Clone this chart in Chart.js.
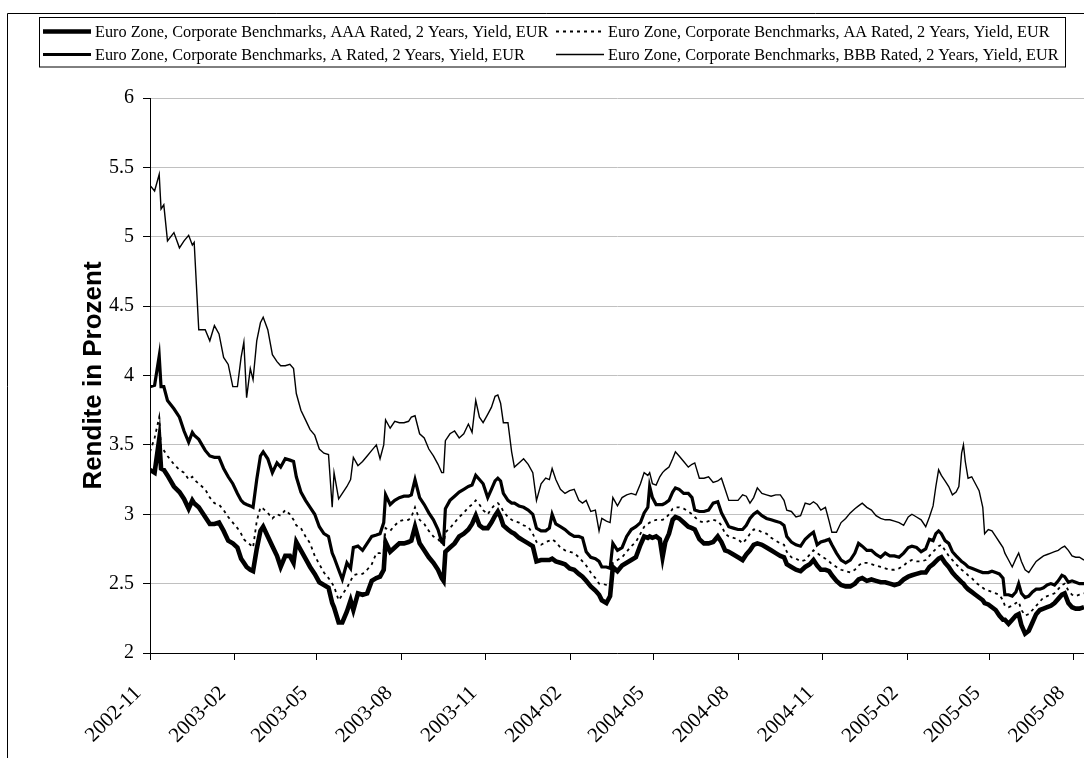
<!DOCTYPE html>
<html>
<head>
<meta charset="utf-8">
<script src="https://cdn.jsdelivr.net/npm/chart.js@4/dist/chart.umd.min.js"></script>
<style>
  html, body { margin: 0; padding: 0; background: #fff; }
  #wrap { width: 1084px; height: 758px; position: relative; }
</style>
</head>
<body>
<div id="wrap"><canvas id="c" width="1084" height="758"></canvas></div>
<script>
const seriesLabels = [
  'Euro Zone, Corporate Benchmarks, AAA Rated, 2 Years, Yield, EUR',
  'Euro Zone, Corporate Benchmarks, AA Rated, 2 Years, Yield, EUR',
  'Euro Zone, Corporate Benchmarks, A Rated, 2 Years, Yield, EUR',
  'Euro Zone, Corporate Benchmarks, BBB Rated, 2 Years, Yield, EUR'
];
const yTitle = 'Rendite in Prozent';

const dates = [
'2002-11-01','2002-11-06','2002-11-11','2002-11-13','2002-11-16','2002-11-20','2002-11-27','2002-12-03','2002-12-08','2002-12-13',
'2002-12-17','2002-12-19','2002-12-24','2002-12-31','2003-01-05','2003-01-10','2003-01-15','2003-01-20','2003-01-25','2003-01-30',
'2003-02-04','2003-02-08','2003-02-11','2003-02-14','2003-02-18','2003-02-21','2003-02-25','2003-03-01','2003-03-04','2003-03-09',
'2003-03-14','2003-03-19','2003-03-23','2003-03-28','2003-04-02','2003-04-06','2003-04-09','2003-04-14','2003-04-19','2003-04-24',
'2003-04-29','2003-05-04','2003-05-09','2003-05-14','2003-05-18','2003-05-20','2003-05-25','2003-05-29','2003-06-03','2003-06-07',
'2003-06-10','2003-06-15','2003-06-20','2003-06-25','2003-06-30','2003-07-05','2003-07-09','2003-07-13','2003-07-15','2003-07-20',
'2003-07-25','2003-07-30','2003-08-04','2003-08-09','2003-08-12','2003-08-16','2003-08-21','2003-08-26','2003-08-31','2003-09-05',
'2003-09-10','2003-09-14','2003-09-16','2003-09-18','2003-09-23','2003-09-28','2003-10-03','2003-10-08','2003-10-13','2003-10-17',
'2003-10-21','2003-10-25','2003-10-29','2003-11-03','2003-11-07','2003-11-11','2003-11-14','2003-11-17','2003-11-20','2003-11-25',
'2003-11-29','2003-12-02','2003-12-07','2003-12-12','2003-12-17','2003-12-22','2003-12-26','2003-12-31','2004-01-05','2004-01-09',
'2004-01-12','2004-01-16','2004-01-21','2004-01-26','2004-01-31','2004-02-05','2004-02-10','2004-02-14','2004-02-18','2004-02-23',
'2004-02-28','2004-03-03','2004-03-06','2004-03-11','2004-03-15','2004-03-18','2004-03-23','2004-03-28','2004-04-02','2004-04-07',
'2004-04-12','2004-04-17','2004-04-21','2004-04-25','2004-04-27','2004-04-30','2004-05-04','2004-05-08','2004-05-11','2004-05-14',
'2004-05-18','2004-05-22','2004-05-25','2004-05-29','2004-06-03','2004-06-08','2004-06-12','2004-06-15','2004-06-20','2004-06-25',
'2004-06-30','2004-07-05','2004-07-10','2004-07-14','2004-07-18','2004-07-22','2004-07-27','2004-08-01','2004-08-06','2004-08-10',
'2004-08-14','2004-08-18','2004-08-22','2004-08-27','2004-09-01','2004-09-06','2004-09-11','2004-09-16','2004-09-20','2004-09-23',
'2004-09-28','2004-10-03','2004-10-08','2004-10-13','2004-10-18','2004-10-22','2004-10-26','2004-10-30','2004-11-04','2004-11-08',
'2004-11-11','2004-11-16','2004-11-21','2004-11-26','2004-12-01','2004-12-06','2004-12-10','2004-12-14','2004-12-19','2004-12-24',
'2004-12-29','2005-01-03','2005-01-08','2005-01-13','2005-01-18','2005-01-23','2005-01-28','2005-02-02','2005-02-06','2005-02-11',
'2005-02-16','2005-02-21','2005-02-25','2005-03-01','2005-03-04','2005-03-07','2005-03-10','2005-03-14','2005-03-18','2005-03-22',
'2005-03-26','2005-03-29','2005-04-01','2005-04-03','2005-04-05','2005-04-08','2005-04-12','2005-04-16','2005-04-20','2005-04-24',
'2005-04-26','2005-04-30','2005-05-04','2005-05-08','2005-05-12','2005-05-16','2005-05-18','2005-05-22','2005-05-26','2005-05-30',
'2005-06-02','2005-06-05','2005-06-09','2005-06-13','2005-06-17','2005-06-21','2005-06-25','2005-06-29','2005-07-03','2005-07-07',
'2005-07-11','2005-07-15','2005-07-19','2005-07-22','2005-07-26','2005-07-30','2005-08-03','2005-08-07','2005-08-12'
];

const aaaYield = [
3.32,3.30,3.54,3.33,3.32,3.28,3.20,3.16,3.11,3.04,
3.10,3.08,3.05,2.98,2.93,2.93,2.94,2.88,2.81,2.79,
2.76,2.68,2.65,2.62,2.60,2.59,2.75,2.88,2.91,2.84,
2.77,2.70,2.62,2.70,2.70,2.65,2.80,2.74,2.68,2.62,
2.57,2.51,2.49,2.47,2.36,2.33,2.22,2.22,2.30,2.38,
2.31,2.43,2.42,2.43,2.52,2.54,2.55,2.60,2.80,2.73,
2.76,2.79,2.79,2.80,2.81,2.91,2.79,2.74,2.69,2.65,
2.60,2.54,2.52,2.73,2.76,2.79,2.84,2.86,2.89,2.93,
2.99,2.92,2.90,2.90,2.94,2.99,3.02,2.98,2.92,2.89,
2.87,2.86,2.83,2.81,2.79,2.77,2.66,2.67,2.67,2.67,
2.68,2.66,2.65,2.64,2.61,2.60,2.57,2.55,2.52,2.48,
2.45,2.42,2.38,2.36,2.41,2.62,2.59,2.63,2.65,2.67,
2.69,2.78,2.84,2.83,2.84,2.83,2.84,2.82,2.69,2.80,
2.86,2.96,2.98,2.97,2.94,2.91,2.90,2.89,2.82,2.79,
2.79,2.80,2.84,2.80,2.74,2.73,2.71,2.69,2.67,2.71,
2.74,2.78,2.79,2.78,2.76,2.74,2.72,2.70,2.69,2.64,
2.62,2.60,2.59,2.62,2.64,2.67,2.63,2.60,2.60,2.59,
2.56,2.52,2.49,2.48,2.48,2.50,2.53,2.54,2.52,2.53,
2.52,2.51,2.51,2.50,2.49,2.50,2.53,2.55,2.56,2.57,
2.58,2.58,2.62,2.64,2.66,2.68,2.69,2.65,2.62,2.58,
2.55,2.53,2.51,2.50,2.48,2.46,2.44,2.42,2.40,2.38,
2.36,2.35,2.33,2.31,2.27,2.24,2.24,2.21,2.24,2.27,
2.28,2.20,2.14,2.16,2.22,2.28,2.31,2.32,2.33,2.34,
2.36,2.39,2.42,2.43,2.36,2.33,2.32,2.32,2.33
];

const aaYield = [
3.45,3.55,3.70,3.48,3.46,3.42,3.36,3.32,3.30,3.25,
3.27,3.25,3.22,3.18,3.12,3.08,3.07,3.03,2.98,2.94,
2.90,2.86,2.82,2.80,2.78,2.76,2.95,3.05,3.04,3.01,
2.97,3.00,2.99,3.03,3.00,2.96,2.92,2.90,2.84,2.79,
2.70,2.64,2.58,2.54,2.50,2.48,2.38,2.42,2.47,2.52,
2.56,2.57,2.57,2.60,2.64,2.72,2.72,2.74,2.90,2.88,
2.92,2.95,2.96,2.96,2.98,3.05,2.96,2.93,2.88,2.84,
2.82,2.79,2.78,2.87,2.90,2.94,2.98,3.01,3.05,3.07,
3.10,3.07,3.03,3.00,3.04,3.07,3.08,3.06,3.02,2.98,
2.96,2.95,2.94,2.92,2.91,2.86,2.80,2.78,2.80,2.81,
2.82,2.80,2.76,2.74,2.73,2.72,2.69,2.66,2.63,2.58,
2.54,2.50,2.50,2.49,2.48,2.65,2.67,2.69,2.73,2.77,
2.80,2.86,2.91,2.93,2.94,2.95,2.96,2.96,2.96,2.97,
3.00,3.04,3.05,3.05,3.04,3.02,3.00,2.98,2.95,2.94,
2.95,2.96,2.95,2.92,2.86,2.84,2.83,2.82,2.79,2.82,
2.86,2.89,2.89,2.87,2.86,2.83,2.81,2.79,2.78,2.73,
2.69,2.68,2.66,2.67,2.71,2.74,2.72,2.70,2.68,2.66,
2.64,2.62,2.60,2.59,2.58,2.60,2.63,2.65,2.65,2.64,
2.63,2.62,2.61,2.60,2.60,2.61,2.63,2.66,2.67,2.66,
2.66,2.67,2.70,2.73,2.75,2.77,2.78,2.74,2.70,2.67,
2.64,2.62,2.60,2.59,2.58,2.56,2.54,2.51,2.49,2.47,
2.46,2.45,2.44,2.43,2.42,2.38,2.34,2.33,2.34,2.36,
2.37,2.31,2.27,2.28,2.31,2.34,2.37,2.40,2.41,2.42,
2.43,2.46,2.49,2.50,2.45,2.42,2.41,2.42,2.43
];

const aYield = [
3.92,3.93,4.14,3.92,3.92,3.82,3.76,3.70,3.60,3.52,
3.59,3.57,3.54,3.46,3.42,3.41,3.41,3.33,3.27,3.22,
3.15,3.10,3.08,3.07,3.06,3.05,3.25,3.42,3.45,3.40,
3.30,3.37,3.34,3.40,3.39,3.38,3.27,3.16,3.10,3.05,
3.00,2.91,2.86,2.84,2.72,2.69,2.60,2.53,2.65,2.61,
2.76,2.77,2.74,2.79,2.84,2.85,2.86,2.94,3.14,3.07,
3.10,3.12,3.13,3.13,3.14,3.25,3.12,3.07,3.01,2.96,
2.89,2.80,2.79,3.04,3.10,3.13,3.16,3.18,3.20,3.21,
3.28,3.25,3.22,3.12,3.18,3.24,3.26,3.24,3.15,3.10,
3.08,3.08,3.06,3.05,3.03,3.00,2.90,2.88,2.88,2.90,
3.00,2.93,2.91,2.89,2.86,2.84,2.84,2.83,2.73,2.69,
2.68,2.66,2.62,2.62,2.61,2.79,2.74,2.76,2.84,2.89,
2.91,2.94,3.01,3.05,3.20,3.12,3.07,3.07,3.07,3.08,
3.10,3.16,3.19,3.18,3.15,3.15,3.12,3.03,3.02,3.02,
3.03,3.08,3.09,3.01,2.96,2.91,2.90,2.89,2.89,2.92,
2.97,3.00,3.02,2.99,2.97,2.96,2.95,2.94,2.92,2.84,
2.80,2.78,2.77,2.82,2.85,2.87,2.78,2.80,2.81,2.82,
2.78,2.72,2.67,2.65,2.67,2.72,2.79,2.77,2.74,2.74,
2.71,2.69,2.72,2.70,2.70,2.69,2.72,2.76,2.77,2.76,
2.73,2.75,2.82,2.81,2.86,2.88,2.86,2.81,2.79,2.73,
2.70,2.68,2.66,2.65,2.64,2.62,2.61,2.60,2.59,2.58,
2.58,2.58,2.59,2.58,2.57,2.54,2.42,2.42,2.41,2.44,
2.50,2.43,2.40,2.41,2.44,2.46,2.46,2.47,2.49,2.50,
2.49,2.52,2.56,2.55,2.51,2.52,2.51,2.50,2.50
];

const bbbYield = [
5.37,5.33,5.45,5.20,5.23,4.97,5.03,4.92,4.97,5.01,
4.94,4.96,4.33,4.33,4.25,4.36,4.30,4.13,4.08,3.92,
3.92,4.13,4.24,3.84,4.05,3.97,4.25,4.38,4.42,4.33,
4.15,4.10,4.07,4.07,4.08,4.05,3.87,3.75,3.68,3.61,
3.57,3.47,3.44,3.43,3.05,3.30,3.11,3.15,3.20,3.25,
3.41,3.35,3.38,3.42,3.46,3.50,3.40,3.50,3.68,3.62,
3.67,3.66,3.66,3.67,3.70,3.71,3.58,3.55,3.47,3.42,
3.36,3.30,3.30,3.53,3.58,3.60,3.55,3.58,3.65,3.59,
3.82,3.70,3.66,3.72,3.77,3.85,3.86,3.80,3.66,3.66,
3.45,3.34,3.37,3.40,3.36,3.30,3.10,3.22,3.26,3.25,
3.33,3.25,3.18,3.15,3.17,3.18,3.10,3.08,3.10,3.02,
3.03,2.88,2.97,2.95,2.94,3.12,3.06,3.12,3.14,3.15,
3.14,3.22,3.30,3.28,3.30,3.22,3.21,3.27,3.30,3.32,
3.34,3.40,3.45,3.42,3.38,3.34,3.36,3.37,3.26,3.26,
3.27,3.23,3.24,3.26,3.18,3.10,3.10,3.10,3.14,3.13,
3.08,3.12,3.19,3.15,3.14,3.13,3.14,3.14,3.10,3.03,
3.02,2.98,2.99,3.08,3.07,3.09,3.07,3.03,3.05,2.95,
2.87,2.87,2.94,2.97,3.01,3.04,3.06,3.08,3.05,3.03,
2.99,2.97,2.96,2.96,2.95,2.94,2.92,2.98,3.00,2.98,
2.96,2.91,2.98,3.06,3.20,3.32,3.28,3.24,3.20,3.14,
3.16,3.20,3.44,3.50,3.38,3.26,3.27,3.22,3.17,3.05,
2.86,2.89,2.88,2.84,2.80,2.76,2.72,2.67,2.62,2.68,
2.72,2.66,2.60,2.58,2.62,2.66,2.68,2.70,2.71,2.72,
2.73,2.74,2.76,2.77,2.74,2.70,2.69,2.69,2.67
];

const xTickLabels = ['2002-11','2003-02','2003-05','2003-08','2003-11','2004-02','2004-05','2004-08','2004-11','2005-02','2005-05','2005-08'];
const yTickValues = [2, 2.5, 3, 3.5, 4, 4.5, 5, 5.5, 6];

// ---- helpers ----
const BASE = Date.UTC(2002, 10, 1);
function dayOf(s) {
  const p = s.split('-').map(Number);
  return (Date.UTC(p[0], p[1] - 1, p[2] || 1) - BASE) / 86400000;
}
const xs = dates.map(dayOf);
const toPts = arr => arr.map((v, i) => ({ x: xs[i], y: v }));

const styles = [
  { w: 4.6, dash: [], lw: 4.5 },
  { w: 1.8, dash: [3, 4], lw: 2 },
  { w: 3.2, dash: [], lw: 2.8 },
  { w: 1.4, dash: [], lw: 1.4 }
];
const seriesValues = [aaaYield, aaYield, aYield, bbbYield];

const datasets = seriesValues.map((vals, i) => ({
  label: seriesLabels[i],
  data: toPts(vals),
  borderColor: '#000',
  backgroundColor: '#000',
  borderWidth: styles[i].w,
  borderDash: styles[i].dash,
  pointRadius: 0,
  tension: 0,
  fill: false
}));

const excelLegend = {
  id: 'excelLegend',
  afterDraw(chart) {
    const ctx = chart.ctx;
    ctx.save();
    ctx.strokeStyle = '#000';
    ctx.lineWidth = 1;
    ctx.setLineDash([]);
    // outer chart frame
    ctx.beginPath();
    ctx.moveTo(1200, 13.5); ctx.lineTo(7.5, 13.5); ctx.lineTo(7.5, 800);
    ctx.stroke();
    // legend box
    ctx.strokeRect(39.5, 17.5, 1026, 49.5);
    const cells = [
      { i: 0, x: 43, ly: 31.5, by: 37 },
      { i: 1, x: 556, ly: 31.5, by: 37 },
      { i: 2, x: 43, ly: 54.5, by: 60 },
      { i: 3, x: 556, ly: 54.5, by: 60 }
    ];
    ctx.font = '16.25px "Liberation Serif", "Times New Roman", serif';
    ctx.fillStyle = '#000';
    ctx.textBaseline = 'alphabetic';
    ctx.textAlign = 'left';
    cells.forEach(c => {
      const ds = chart.data.datasets[c.i];
      ctx.lineWidth = styles[c.i].lw;
      ctx.setLineDash(ds.borderDash || []);
      ctx.beginPath();
      ctx.moveTo(c.x, c.ly);
      ctx.lineTo(c.x + 48, c.ly);
      ctx.stroke();
      ctx.setLineDash([]);
      ctx.fillText(ds.label, c.x + 52, c.by);
    });
    ctx.restore();
  }
};

new Chart(document.getElementById('c'), {
  type: 'line',
  data: { datasets },
  plugins: [excelLegend],
  options: {
    responsive: false,
    devicePixelRatio: 1,
    animation: false,
    events: [],
    layout: { padding: { top: 98, left: 0, right: 0, bottom: 0 } },
    plugins: { legend: { display: false }, tooltip: { enabled: false } },
    scales: {
      x: {
        type: 'linear',
        min: xs[0],
        max: xs[xs.length - 1],
        afterBuildTicks(scale) {
          scale.ticks = xTickLabels.map(m => ({ value: dayOf(m) }));
        },
        afterFit(scale) {
          scale.height = 105;
          scale.paddingLeft = 0;
          scale.paddingRight = 0;
        },
        ticks: {
          autoSkip: false,
          minRotation: 45,
          maxRotation: 45,
          padding: 21,
          labelOffset: -12,
          color: '#000',
          font: { family: '"Liberation Serif", "Times New Roman", serif', size: 21 },
          callback: (v, i) => xTickLabels[i]
        },
        grid: { drawOnChartArea: false, drawTicks: true, tickLength: 7, tickColor: '#000', color: '#000' },
        border: { display: true, color: '#000', width: 1 }
      },
      y: {
        type: 'linear',
        min: 2,
        max: 6,
        afterBuildTicks(scale) {
          scale.ticks = yTickValues.map(v => ({ value: v }));
        },
        afterFit(scale) {
          scale.width = 150;
        },
        ticks: {
          padding: 9,
          color: '#000',
          font: { family: '"Liberation Serif", "Times New Roman", serif', size: 20 },
          callback: (v, i) => String(yTickValues[i])
        },
        grid: { color: '#c0c0c0', lineWidth: 1, drawTicks: true, tickLength: 7, tickColor: '#000' },
        border: { display: true, color: '#000', width: 1 },
        title: {
          display: true,
          text: yTitle,
          color: '#000',
          font: { family: '"Liberation Sans", Arial, sans-serif', size: 26, weight: 'bold' },
          padding: { top: 78, bottom: 0 }
        }
      }
    }
  }
});
</script>
</body>
</html>
